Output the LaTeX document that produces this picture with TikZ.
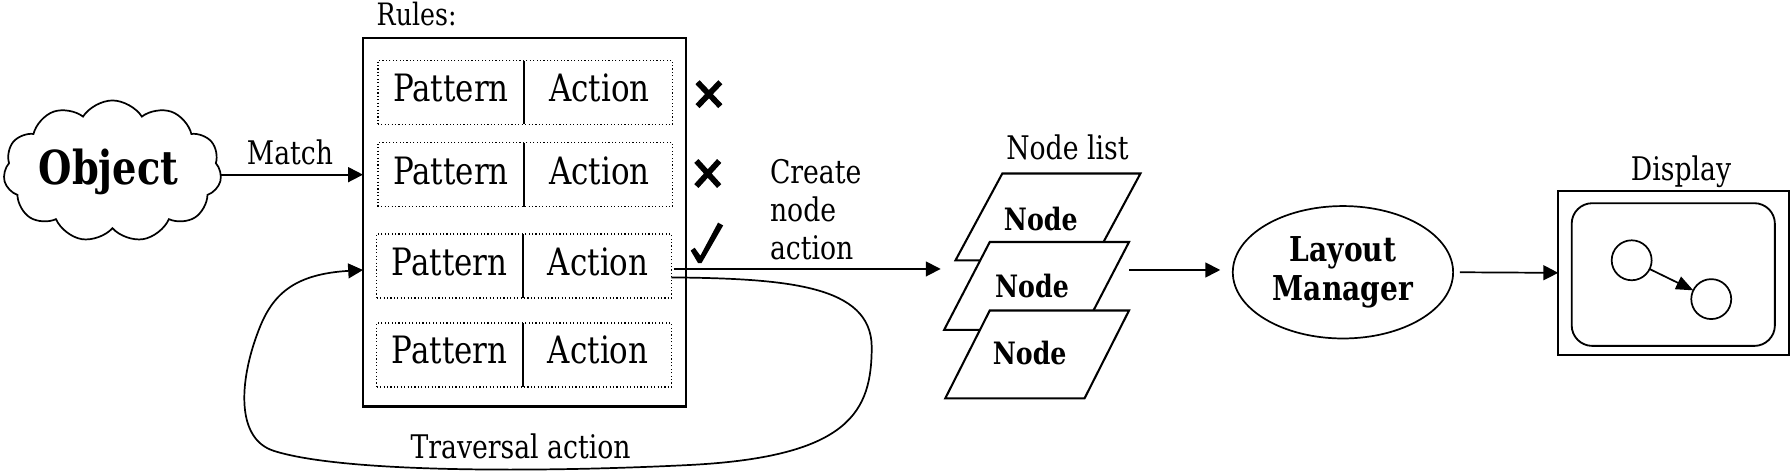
\documentclass[tikz,border=0pt]{standalone}
\usepackage{fontspec}
\setmainfont{DejaVu Serif}[FakeStretch=0.82]
\usetikzlibrary{shapes.symbols,shapes.geometric,arrows.meta}
\begin{document}
\begin{tikzpicture}[x=1pt,y=-1pt,line join=miter,
  every node/.style={inner sep=0pt,outer sep=0pt},
  lbl/.style={font=\fontsize{28.5}{33}\selectfont,anchor=base},
  cell/.style={font=\fontsize{33}{36}\selectfont,anchor=base},
  bnode/.style={font=\bfseries\fontsize{27}{30}\selectfont,anchor=base},
  rowbox/.style={draw,dash pattern=on 1pt off 2pt,line width=1.2pt,minimum width=258pt,minimum height=56pt},
  divider/.style={line width=1.6pt},
  arr/.style={-{Triangle[length=13pt,width=13pt]},line width=1.5pt},
  para/.style={draw,fill=white,line width=1.8pt},
  crossmark/.style={line width=5pt},
  ]
\useasboundingbox (0,0) rectangle (1568,414);

% Object cloud
\node[cloud,draw,cloud puffs=11,cloud puff arc=115,aspect=1.55,line width=1.5pt,
      minimum width=191pt,minimum height=124pt] (obj) at (98.5,150) {};
\node[font=\bfseries\fontsize{41}{44}\selectfont,anchor=base] (objt) at (95,162) {Object};

% Rules box
\node[anchor=base west,font=\fontsize{27}{30}\selectfont] (ruleslbl) at (330,22) {Rules:};
\node[draw,line width=2pt,minimum width=283pt,minimum height=323pt] (rules) at (459.5,194.5) {};

\node[rowbox] (r1) at (460,81) {};
\node[rowbox] (r2) at (460,153) {};
\node[rowbox] (r3) at (459,233) {};
\node[rowbox] (r4) at (459,311) {};
\draw[divider] (459,53) -- (459,109);
\draw[divider] (459,125) -- (459,181);
\draw[divider] (458,205) -- (458,261);
\draw[divider] (458,283) -- (458,339);

\node[cell] (pa1) at (395,89) {Pattern};
\node[cell] (ac1) at (525,89) {Action};
\node[cell] (pa2) at (395,161.5) {Pattern};
\node[cell] (ac2) at (525,161.5) {Action};
\node[cell] (pa3) at (394,241) {Pattern};
\node[cell] (ac3) at (524,241) {Action};
\node[cell] (pa4) at (394,318) {Pattern};
\node[cell] (ac4) at (524,318) {Action};

% crosses and check
\draw[crossmark] (611,72) -- (631,93) (631,72) -- (611,93);
\draw[crossmark] (610,141) -- (630,163) (630,141) -- (610,163);
\fill (605,219.5) -- (608.5,217) -- (613.5,224) -- (629,195) -- (633.5,197.5) -- (614.5,230.5) -- (611.5,230.5) -- cycle;

% Match
\node[lbl] (match) at (254,144) {Match};
\draw[arr] (obj.east |- r2.west) -- (rules.west |- r2.west);

% Create node action
\node[lbl,anchor=base west] (cn1) at (674.5,161) {Create};
\node[lbl,anchor=base west] (cn2) at (674.5,194) {node};
\node[lbl,anchor=base west] (cn3) at (674.5,227.7) {action};
\coordinate (nlin) at (824,235.6);
\draw[arr] ([xshift=2pt,yshift=-2.6pt]r3.east) -- (nlin);

% Traversal action loop
\coordinate (tin) at (rules.west |- 0,236.5);
\draw[arr] ([yshift=-10pt]r3.east)
   .. controls (690,244) and (763,250) .. (763.6,303.7)
   .. controls (763.6,360) and (745,400) .. (604.4,407.3)
   .. controls (470,414) and (300,414) .. (240,395)
   .. controls (205,384) and (210,330) .. (227.8,286.2)
   .. controls (240,256) and (260,240) .. (tin);
\node[lbl] (trav) at (456,401.5) {Traversal action};

% Node list
\node[lbl] (nlist) at (935,140) {Node list};
\draw[para] (878,152) -- (999,152) -- (958,228) -- (837,228) -- cycle;
\node[bnode] (p1) at (911.7,201.6) {Node};
\draw[para] (867,212) -- (989,212) -- (949,289) -- (827,289) -- cycle;
\node[bnode] (p2) at (904,260.7) {Node};
\draw[para] (867,272) -- (989,272) -- (950,349) -- (828,349) -- cycle;
\node[bnode] (p3) at (902,319.7) {Node};
\coordinate (p2r) at (989,236.5);

% Layout manager
\node[ellipse,draw,line width=1.5pt,minimum width=193pt,minimum height=116pt,
      align=center,font=\bfseries\fontsize{30}{34}\selectfont] (lm) at (1176.4,238.5) {Layout\\Manager};
\draw[arr,shorten >=11pt] (p2r) -- (p2r -| lm.west);

% Display
\node[lbl] (displbl) at (1472.5,157.7) {Display};
\node[draw,line width=2pt,minimum width=202pt,minimum height=144pt] (disp) at (1466,239) {};
\node[draw,line width=1.6pt,rounded corners=18pt,minimum width=178pt,minimum height=125pt] (screen) at (1465.75,240.5) {};
\node[circle,draw,line width=1.5pt,minimum size=35pt] (c1) at (1429.3,228) {};
\node[circle,draw,line width=1.5pt,minimum size=35pt] (c2) at (1499,262) {};
\draw[-{Triangle[length=15pt,width=12pt]},line width=1.5pt] (c1) -- (c2);
\draw[arr] ([xshift=6pt]lm.east) -- (disp.west);
\end{tikzpicture}
\end{document}
